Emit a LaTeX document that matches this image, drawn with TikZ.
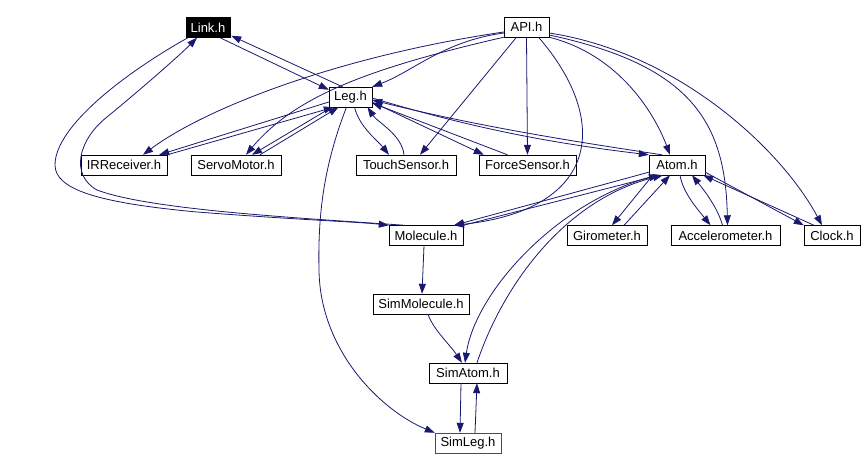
\documentclass[tikz,border=0pt]{standalone}
\usepackage{fontspec}
\setmainfont{Liberation Sans}
\usetikzlibrary{arrows.meta}
\definecolor{edgeblue}{RGB}{25,25,112}
\begin{document}
\begin{tikzpicture}[x=1pt,y=-1pt]
\tikzset{
  hdr/.style={draw=black,fill=white,font=\fontsize{13}{15}\selectfont,inner sep=0pt,minimum height=20pt},
  dep/.style={draw=edgeblue,line width=0.8pt,-{Triangle[length=10pt,width=7pt]}},
}
\useasboundingbox[fill=white] (0,0) rectangle (865,470);
\foreach \n/\x/\y/\w/\t in {
    API/526.5/27/45/API.h,
    Leg/350.5/97/43/Leg.h,
    IRReceiver/124/165/86/IRReceiver.h,
    ServoMotor/236/165/90/ServoMotor.h,
    TouchSensor/406/165/100/TouchSensor.h,
    ForceSensor/527.5/165/97/ForceSensor.h,
    Atom/677/165/56/Atom.h,
    Molecule/426/235.5/74/Molecule.h,
    Girometer/607/235.5/80/Girometer.h,
    Accelerometer/725.5/235.5/109/Accelerometer.h,
    Clock/832/235.5/56/Clock.h,
    SimMolecule/421/304/96/SimMolecule.h,
    SimAtom/468/373/78/SimAtom.h
}{
    \node [hdr,minimum width=\w] (\n) at (\x,\y) {\t};
}
\node [hdr,minimum width=44,fill=black,text=white] (Link) at (208,27.5) {Link.h};
\node [hdr,minimum width=66,draw=red] (SimLeg) at (468,443) {SimLeg.h};
% straight includes
\foreach \a/\ax/\ay/\b/\bx/\by in {
    Link.south/12/0/Leg.north west/0/3,
    Leg.north/-8/0/Link.south east/1/-2,
    API.south/-10/0/TouchSensor.north/14/0,
    API.south/0/0/ForceSensor.north/0/0,
    Leg.west/0/5/IRReceiver.north east/-8/0,
    IRReceiver.north east/0/0/Leg.south west/5/0,
    Leg.south west/3/0/ServoMotor.north/16/0,
    ServoMotor.north/24/0/Leg.south/-12/0,
    Leg.east/0/5/ForceSensor.north west/5/0,
    ForceSensor.north/-20/0/Leg.east/0/6,
    Atom.south west/0/-3/Molecule.north/28/0,
    Molecule.north east/0/0/Atom.south/-18/0,
    Atom.south west/4/0/Girometer.north/5/0,
    Girometer.north/17/0/Atom.south/-7/0,
    Atom.south east/0/-3/Clock.north west/0/0,
    Clock.north/-18/0/Atom.south east/-2/0,
    Molecule.south/-2/0/SimMolecule.north/1/0,
    SimAtom.south/-7/0/SimLeg.north/-8/0,
    SimLeg.north/7/0/SimAtom.south/9/0
}{
    \draw [dep] ([shift={(\ax,\ay)}]\a) -- ([shift={(\bx,\by)}]\b);
}
% curved includes
\draw [dep] ([shift={(0,6)}]API.west) .. controls +(-60,8) and +(40,-15) .. (Leg.north east);
\draw [dep] ([shift={(0,5)}]API.west) .. controls +(-170,25) and +(60,-45) .. ([shift={(19,0)}]IRReceiver.north);
\draw [dep] (API.south west) .. controls +(-130,30) and +(50,-60) .. ([shift={(10,0)}]ServoMotor.north);
\draw [dep] ([shift={(12,0)}]API.south) .. controls +(72,83) and +(146,-16) .. ([shift={(28,0)}]Molecule.north);
\draw [dep] (API.south east) .. controls +(71,18) and +(-15,-40) .. ([shift={(-7,0)}]Atom.north);
\draw [dep] ([shift={(0,8)}]API.east) .. controls +(140,30) and +(-2,-105) .. ([shift={(2,0)}]Accelerometer.north);
\draw [dep] ([shift={(0,6)}]API.east) .. controls +(130,20) and +(-40,-75) .. ([shift={(-10,0)}]Clock.north);
\draw [dep] ([shift={(0,1)}]Leg.east) .. controls +(100,30) and +(-100,-12) .. (Atom.north west);
\draw [dep] ([shift={(-15,0)}]Atom.north) .. controls +(-100,-15) and +(100,25) .. ([shift={(0,3)}]Leg.east);
\draw [dep] ([shift={(4,0)}]Leg.south) .. controls +(5,20) and +(-12,-15) .. ([shift={(-17,0)}]TouchSensor.north);
\draw [dep] ([shift={(-2,0)}]TouchSensor.north) .. controls +(-2,-20) and +(10,15) .. ([shift={(17,0)}]Leg.south);
\draw [dep] ([shift={(3,0)}]Atom.south) .. controls +(3,18) and +(-12,-15) .. ([shift={(-15,0)}]Accelerometer.north);
\draw [dep] ([shift={(-3,0)}]Accelerometer.north) .. controls +(-5,-18) and +(12,15) .. ([shift={(15,0)}]Atom.south);
\draw [dep] ([shift={(-20,0)}]Atom.south) .. controls +(-100,25) and +(10,-70) .. ([shift={(-3,0)}]SimAtom.north);
\draw [dep] ([shift={(9,0)}]SimAtom.north) .. controls +(25,-75) and +(-100,25) .. ([shift={(-14,0)}]Atom.south);
\draw [dep] ([shift={(7,0)}]SimMolecule.south) .. controls +(5,15) and +(-12,-18) .. ([shift={(-6,0)}]SimAtom.north);
\draw [dep] ([shift={(-4,0)}]Leg.south) .. controls (322,170) and (318,220) .. (319,270)
    .. controls (320,350) and (380,410) .. (SimLeg.north west);
% the two long loops round the left side
\draw [dep] ([shift={(-20,0)}]Link.south) .. controls (130,70) and (55,125) .. (55,165)
    .. controls (55,190) and (100,203) .. (197,212) .. controls (300,220) and (360,222) .. (Molecule.north west);
\draw [dep] ([shift={(-21,0)}]Molecule.north) .. controls (300,218) and (150,210) .. (97,190)
    .. controls (70,175) and (78,140) .. (107,117) .. controls (140,90) and (180,55) .. ([shift={(-11,0)}]Link.south);
\end{tikzpicture}
\end{document}
